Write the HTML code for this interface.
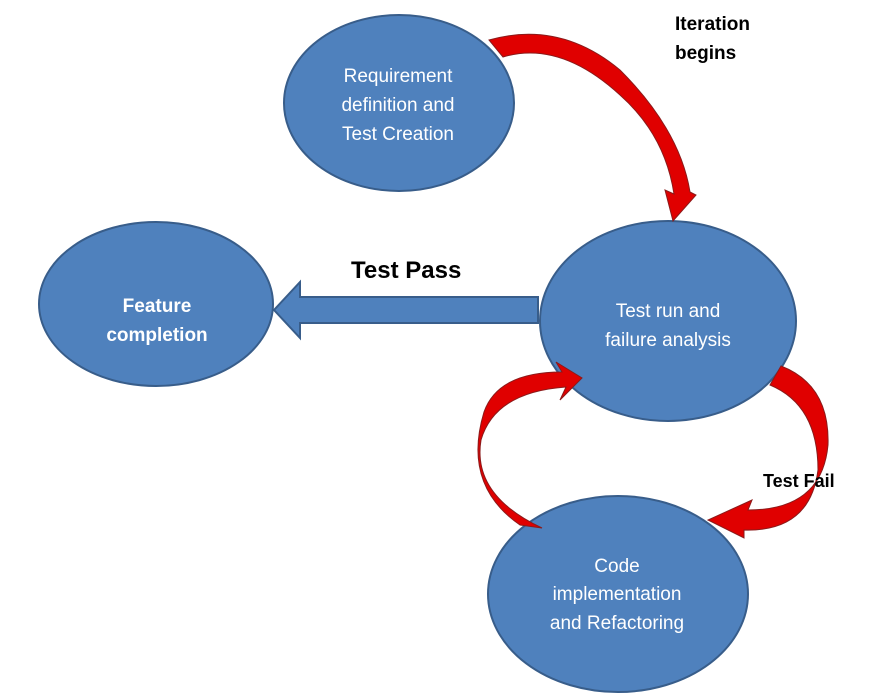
<!DOCTYPE html>
<html><head><style>
body{margin:0;background:#fff;width:874px;height:695px;overflow:hidden}
svg{display:block}
text{font-family:"Liberation Sans",sans-serif}
</style></head><body>
<svg width="874" height="695" viewBox="0 0 874 695">
<g fill="#4f81bd" stroke="#385d8a" stroke-width="2">
<ellipse cx="399" cy="103" rx="115" ry="88"/>
<ellipse cx="156" cy="304" rx="117" ry="82"/>
<ellipse cx="668" cy="321" rx="128" ry="100"/>
<ellipse cx="618" cy="594" rx="130" ry="98"/>
<polygon points="538,297 300,297 300,282 274,310 300,338 300,323 538,323"/>
</g>
<g fill="#e00000" stroke="#8b1a1a" stroke-width="1">
<path d="M489,40 Q560,20 620,70 Q680,130 690,192 L696,195 L673,221 L665,190 L674,194 Q665,135 620,95 Q560,40 503,57 Z"/>
<path d="M781,366 Q830,385 828,445 Q822,510 748,510 L752,500 L708,520 L744,538 L744,530 Q810,532 818,470 Q818,405 770,385 Z"/>
<path d="M542,528 Q472,495 481,440 Q495,392 566,387 L560,400 L582,378 L556,362 L562,372 Q498,372 484,412 Q462,485 520,525 Z"/>
</g>
<g fill="#fff" font-size="19" text-anchor="middle">
<text x="398" y="82">Requirement</text>
<text x="398" y="111">definition and</text>
<text x="398" y="140">Test Creation</text>
<text x="157" y="312" font-weight="bold">Feature</text>
<text x="157" y="341" font-weight="bold">completion</text>
<text x="668" y="317">Test run and</text>
<text x="668" y="346">failure analysis</text>
<text x="617" y="572">Code</text>
<text x="617" y="600">implementation</text>
<text x="617" y="629">and Refactoring</text>
</g>
<g fill="#000" font-weight="bold">
<text x="675" y="30" font-size="19">Iteration</text>
<text x="675" y="59" font-size="19">begins</text>
<text x="351" y="278" font-size="24">Test Pass</text>
<text x="763" y="487" font-size="18">Test Fail</text>
</g>
</svg>
</body></html>
